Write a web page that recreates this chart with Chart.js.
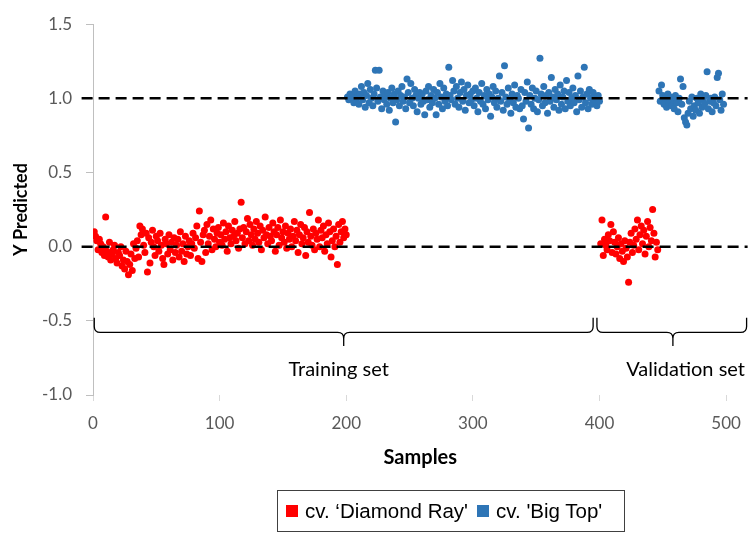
<!DOCTYPE html>
<html>
<head>
<meta charset="utf-8">
<script src="https://cdn.jsdelivr.net/npm/chart.js@4.4.1/dist/chart.umd.min.js"></script>
<style>
  html, body { margin: 0; padding: 0; background: #fff; }
  #wrap { position: relative; width: 753px; height: 536px; }
  #chart { position: absolute; left: 0; top: 0; }
  #legend {
    position: absolute; left: 277px; top: 490px; width: 346px; height: 40px;
    border: 1px solid #404040; display: flex; align-items: center;
    font-family: "Liberation Sans", Arial, sans-serif; font-size: 20.5px; color: #000; white-space: nowrap;
  }
  .item { display: flex; align-items: center; margin-left: 9px; }
  .item:first-child { margin-left: 8px; }
  .swatch { width: 12px; height: 12px; margin-right: 7px; }
</style>
</head>
<body>
<div id="wrap">
  <canvas id="chart" width="753" height="536"></canvas>
  <div id="legend"></div>
</div>
<script>
// predicted Y per sample
const redTrainStart = 1;
const redTrainY = [
  0.10, 0.07, 0.04, -0.02, 0.05, 0.02, -0.04, 0.00, -0.06, 0.20, -0.03, -0.07, 0.03, -0.09, -0.05, -0.02, 0.01, -0.08, -0.11, -0.04,
  -0.06, 0.00, -0.13, -0.09, -0.15, -0.03, -0.10, -0.19, -0.12, -0.05, -0.16, 0.02, -0.08, -0.01, 0.04, -0.07, 0.14, 0.08, 0.12, 0.01,
  -0.04, 0.09, -0.17, 0.06, -0.11, 0.03, 0.11, 0.00, -0.06, 0.07, 0.04, -0.03, 0.09, 0.01, -0.08, -0.12, 0.05, 0.02, -0.05, 0.08,
  -0.02, 0.03, -0.09, 0.06, -0.04, 0.01, 0.05, -0.07, 0.10, -0.03, 0.02, -0.10, 0.07, -0.05, 0.00, 0.04, -0.06, 0.02, 0.09, -0.01,
  0.06, 0.14, -0.08, 0.24, 0.03, -0.10, 0.08, 0.11, -0.04, 0.15, 0.02, 0.07, 0.18, -0.02, 0.12, 0.05, 0.00, 0.09, 0.13, 0.03,
  0.08, 0.01, 0.16, 0.05, 0.10, -0.03, 0.14, 0.06, 0.02, 0.11, 0.07, 0.17, 0.04, 0.09, -0.01, 0.12, 0.30, 0.06, 0.13, 0.02,
  0.10, 0.19, 0.04, 0.15, 0.08, 0.01, 0.12, 0.05, 0.17, 0.09, 0.03, 0.14, -0.02, 0.11, 0.06, 0.20, 0.08, 0.02, 0.13, 0.07,
  0.04, 0.16, 0.10, -0.03, 0.08, 0.13, 0.01, 0.18, 0.06, 0.10, 0.03, 0.14, -0.01, 0.09, 0.05, 0.12, 0.00, 0.07, 0.17, 0.04,
  0.11, -0.04, 0.08, 0.15, 0.02, 0.06, 0.13, -0.06, 0.10, 0.03, 0.23, 0.07, 0.01, 0.12, -0.02, 0.09, 0.05, 0.18, 0.00, 0.11,
  0.06, 0.14, -0.03, 0.08, 0.02, 0.16, 0.10, -0.07, 0.04, 0.12, 0.00, 0.07, -0.12, 0.15, 0.03, 0.10, 0.17, 0.06, 0.12, 0.08
];
const blueTrainStart = 201;
const blueTrainY = [
  1.01, 0.99, 1.03, 1.00, 1.02, 0.97, 1.05, 0.98, 1.01, 0.96, 1.03, 1.08, 0.99, 1.04, 0.94, 1.02, 1.10, 0.97, 1.06, 1.00,
  0.95, 1.03, 1.19, 1.07, 0.98, 1.19, 1.01, 0.93, 1.05, 0.99, 1.02, 0.96, 1.04, 0.92, 1.00, 1.07, 0.97, 1.03, 0.84, 0.99,
  1.05, 0.95, 1.02, 1.08, 0.98, 1.01, 0.93, 1.13, 1.04, 0.97, 1.10, 1.00, 0.95, 1.06, 1.02, 0.91, 1.00, 1.04, 0.96, 1.03,
  0.98, 0.89, 1.05, 0.99, 1.08, 0.94, 1.02, 0.97, 1.06, 1.00, 0.89, 1.04, 0.96, 1.10, 1.01, 0.93, 1.07, 0.98, 1.03, 0.95,
  1.21, 1.02, 0.99, 1.12, 1.05, 0.96, 1.08, 1.00, 0.94, 1.04, 1.11, 0.98, 1.06, 0.92, 1.02, 1.09, 0.97, 1.03, 0.99, 1.05,
  0.95, 1.07, 1.00, 0.91, 1.04, 0.98, 1.10, 0.96, 1.02, 0.93, 1.06, 0.99, 1.03, 0.88, 1.01, 1.08, 0.97, 1.05, 0.94, 1.00,
  1.15, 0.98, 1.04, 0.92, 1.22, 1.01, 0.96, 1.07, 0.99, 0.90, 1.03, 0.97, 1.09, 0.94, 1.02, 1.00, 0.93, 1.06, 0.95, 0.86,
  1.04, 0.98, 1.11, 0.80, 1.02, 0.96, 1.07, 0.93, 1.00, 1.05, 0.91, 0.99, 1.27, 1.03, 0.95, 1.08, 0.97, 1.02, 0.90, 1.04,
  0.98, 1.14, 1.01, 0.94, 1.06, 0.99, 1.03, 0.92, 1.09, 0.96, 1.01, 1.05, 0.93, 1.12, 0.98, 1.04, 0.95, 1.00, 1.07, 0.97,
  1.02, 0.91, 1.15, 0.99, 1.05, 0.94, 1.01, 1.21, 0.97, 1.03, 0.93, 1.06, 1.00, 0.96, 1.04, 0.99, 1.01, 0.95, 1.02, 0.98
];
const redValStart = 401;
const redValY = [
  0.02, 0.18, -0.06, 0.05, 0.01, -0.02, 0.08, 0.04, 0.15, -0.04,
  0.10, 0.03, -0.05, 0.00, 0.06, -0.08, 0.02, -0.03, -0.10, 0.04,
  -0.01, -0.07, -0.24, 0.03, 0.09, -0.04, 0.01, 0.12, 0.05, 0.18,
  -0.02, 0.08, 0.14, 0.02, 0.11, -0.05, 0.07, 0.17, 0.00, 0.13,
  0.04, 0.25, 0.09, -0.07, 0.03, -0.02
];
const blueValStart = 447;
const blueValY = [
  1.05, 0.98, 1.09, 1.02, 0.96, 1.00, 0.94, 1.03, 0.97, 1.01,
  0.95, 0.99, 0.93, 1.02, 0.97, 0.91, 1.00, 1.13, 0.96, 1.08,
  0.87, 0.84, 0.82, 0.90, 0.98, 0.93, 1.01, 0.88, 0.95, 0.92,
  1.00, 0.97, 0.90, 1.03, 0.94, 0.99, 0.96, 1.02, 1.18, 0.93,
  0.98, 1.00, 0.91, 0.97, 1.01, 0.95, 1.14, 1.17, 0.99, 0.92,
  1.03, 0.96
];
const xTicks = [0, 100, 200, 300, 400, 500];
const yTicks = [-1.0, -0.5, 0.0, 0.5, 1.0, 1.5];
const refLevels = [0, 1];
const seriesNames = ['cv. \u2018Diamond Ray\'', 'cv. \'Big Top\''];
// sample ranges marked by the braces under the points
const sets = [
  { label: 'Training set', from: 1, to: 395, tip: 198, text: 194 },
  { label: 'Validation set', from: 398, to: 517, tip: 458, text: 468 }
];

const RED = '#ff0000';
const BLUE = '#2e75b6';
const TXT = '#595959';

function toPoints(start, ys) {
  return ys.map((y, i) => ({ x: start + i, y: y }));
}

const bracePlugin = {
  id: 'braces',
  afterDatasetsDraw(chart) {
    const { ctx, scales: { x, y } } = chart;
    const top = y.getPixelForValue(-0.48);
    const line = y.getPixelForValue(-0.578);
    const tip = y.getPixelForValue(-0.67);
    const r = 6;
    ctx.save();
    ctx.strokeStyle = '#000';
    ctx.lineWidth = 1.3;
    ctx.fillStyle = '#000';
    ctx.font = '20px Lato';
    ctx.textAlign = 'center';
    ctx.textBaseline = 'middle';
    sets.forEach(s => {
      const a = x.getPixelForValue(s.from);
      const b = Math.min(x.getPixelForValue(s.to), chart.chartArea.right - 1);
      const m = x.getPixelForValue(s.tip);
      ctx.beginPath();
      ctx.moveTo(a, top);
      ctx.lineTo(a, line - r);
      ctx.quadraticCurveTo(a, line, a + r, line);
      ctx.lineTo(m - r, line);
      ctx.quadraticCurveTo(m, line, m, line + r);
      ctx.lineTo(m, tip);
      ctx.moveTo(m, line + r);
      ctx.quadraticCurveTo(m, line, m + r, line);
      ctx.lineTo(b - r, line);
      ctx.quadraticCurveTo(b, line, b, line - r);
      ctx.lineTo(b, top);
      ctx.stroke();
      ctx.fillText(s.label, x.getPixelForValue(s.text), y.getPixelForValue(-0.83));
    });
    ctx.restore();
  }
};

const refSets = refLevels.map(v => ({
  type: 'line',
  data: [{ x: -9, y: v }, { x: 517, y: v }],
  borderColor: '#000',
  borderWidth: 2.5,
  borderDash: [11, 6],
  pointRadius: 0,
  clip: false,
  order: 0
}));

const chart = new Chart(document.getElementById('chart').getContext('2d'), {
  type: 'scatter',
  data: {
    datasets: [
      {
        label: seriesNames[0],
        data: toPoints(redTrainStart, redTrainY).concat(toPoints(redValStart, redValY)),
        backgroundColor: RED, borderColor: RED, pointRadius: 3.5, borderWidth: 0, order: 1
      },
      {
        label: seriesNames[1],
        data: toPoints(blueTrainStart, blueTrainY).concat(toPoints(blueValStart, blueValY)),
        backgroundColor: BLUE, borderColor: BLUE, pointRadius: 3.5, borderWidth: 0, order: 1
      },
      ...refSets
    ]
  },
  options: {
    responsive: false,
    animation: false,
    devicePixelRatio: 1,
    layout: { padding: { top: 24, right: 1, bottom: 50, left: 0 } },
    plugins: { legend: { display: false }, tooltip: { enabled: false } },
    scales: {
      x: {
        type: 'linear', min: 0, max: 517,
        afterFit: s => { s.height = 91; },
        afterBuildTicks: s => { s.ticks = xTicks.map(v => ({ value: v })); },
        grid: { drawOnChartArea: false, tickLength: 6, color: '#d9d9d9' },
        border: { display: false },
        ticks: { padding: 12, color: TXT, font: { family: 'Lato', size: 17 } },
        title: { display: true, text: 'Samples', color: '#000', padding: { top: 4, bottom: 16 },
                 font: { family: 'Lato', size: 20, weight: 'bold' } }
      },
      y: {
        type: 'linear', min: -1, max: 1.5,
        afterFit: s => { s.width = 93; },
        afterBuildTicks: s => { s.ticks = yTicks.map(v => ({ value: v })); },
        grid: { drawOnChartArea: false, tickLength: 7, color: '#bfbfbf' },
        border: { color: '#bfbfbf', width: 1 },
        ticks: { padding: 14, color: TXT, font: { family: 'Lato', size: 17 }, callback: v => v.toFixed(1) },
        title: { display: true, text: 'Y Predicted', color: '#000', padding: { top: 10, bottom: 4 },
                 font: { family: 'Lato', size: 18, weight: 'bold' } }
      }
    }
  },
  plugins: [bracePlugin]
});

// boxed legend under the chart, built from the two point series
const legend = document.getElementById('legend');
chart.data.datasets.slice(0, 2).forEach(ds => {
  const item = document.createElement('div');
  item.className = 'item';
  item.innerHTML = `<span class="swatch" style="background:${ds.backgroundColor}"></span><span>${ds.label}</span>`;
  legend.appendChild(item);
});
</script>
</body>
</html>
